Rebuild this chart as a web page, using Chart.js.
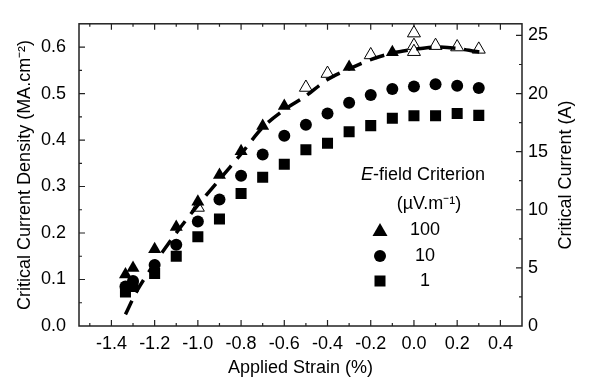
<!DOCTYPE html>
<html>
<head>
<meta charset="utf-8">
<script src="https://cdn.jsdelivr.net/npm/chart.js@4/dist/chart.umd.min.js"></script>
<style>
  html, body { margin: 0; padding: 0; background: #fff; }
  #wrap { width: 600px; height: 387px; }
</style>
</head>
<body>
<div id="wrap"><canvas id="strain-chart"></canvas></div>
<script>
// strain (%) positions
const strain = [-1.335, -1.3, -1.2, -1.1, -1.0, -0.9, -0.8, -0.7, -0.6, -0.5, -0.4, -0.3, -0.2, -0.1, 0.0, 0.1, 0.2, 0.3];

// critical current density, MA.cm-2
const jc10 = [0.085, 0.097, 0.131, 0.175, 0.225, 0.272, 0.323, 0.369, 0.409, 0.433, 0.457, 0.48, 0.497, 0.51, 0.515, 0.52, 0.517, 0.512];
const jc1 = [0.073, 0.085, 0.113, 0.15, 0.192, 0.23, 0.285, 0.32, 0.348, 0.379, 0.393, 0.418, 0.431, 0.447, 0.452, 0.452, 0.457, 0.453];

// 100 uV/m filled points (loading)
const strain100 = [-1.335, -1.3, -1.2, -1.1, -1.0, -0.9, -0.8, -0.7, -0.6, -0.3, -0.1];
const jc100 = [0.111, 0.125, 0.165, 0.213, 0.267, 0.325, 0.376, 0.43, 0.473, 0.557, 0.589];

// 100 uV/m open points
const strainOpen = [-1.0, -0.5, -0.4, -0.2, 0.0, 0.0, 0.0, 0.1, 0.2, 0.3];
const jcOpen = [0.255, 0.513, 0.543, 0.583, 0.63, 0.603, 0.59, 0.603, 0.6, 0.595];

// dashed trend line
const strainFit = [-1.335, -1.28, -1.2, -1.1, -1.0, -0.9, -0.8, -0.7, -0.6, -0.5, -0.4, -0.3, -0.2, -0.1, 0.0, 0.1, 0.2, 0.33];
const jcFit = [0.025, 0.077, 0.135, 0.2, 0.26, 0.315, 0.37, 0.427, 0.465, 0.495, 0.53, 0.553, 0.573, 0.587, 0.595, 0.6, 0.597, 0.587];

const xTicks = [-1.4, -1.2, -1.0, -0.8, -0.6, -0.4, -0.2, 0.0, 0.2, 0.4];
const yTicks = [0.0, 0.1, 0.2, 0.3, 0.4, 0.5, 0.6];
const y2Ticks = [0, 5, 10, 15, 20, 25];

const legendTitle = "-field Criterion";
const legendUnit = "(\u00b5V.m\u207b\u00b9)";
const legendLabels = ["100", "10", "1"];

const FONT = "'Liberation Sans', Arial, Helvetica, sans-serif";

function pts(xs, ys) {
  return xs.map((x, i) => ({ x: x, y: ys[i] }));
}

const framePlugin = {
  id: "frame",
  beforeDatasetsDraw(chart) {
    const ctx = chart.ctx;
    const a = chart.chartArea;
    const x = chart.scales.x, y = chart.scales.y, y2 = chart.scales.y2;
    ctx.save();
    ctx.strokeStyle = "#222";
    ctx.lineWidth = 1.5;
    ctx.strokeRect(a.left, a.top, a.right - a.left, a.bottom - a.top);
    ctx.lineWidth = 1.2;
    ctx.beginPath();
    for (let v = -1.5; v <= 0.5001; v += 0.1) {
      const px = x.getPixelForValue(v);
      if (px < a.left + 1 || px > a.right - 1) continue;
      const major = Math.abs(Math.round(v * 10)) % 2 === 0;
      const len = major ? 6 : 3;
      ctx.moveTo(px, a.bottom); ctx.lineTo(px, a.bottom - len);
      ctx.moveTo(px, a.top); ctx.lineTo(px, a.top + len);
    }
    for (let v = 0.05; v <= 0.65; v += 0.05) {
      const py = y.getPixelForValue(v);
      if (py < a.top + 1) continue;
      const major = Math.round(v * 100) % 10 === 0;
      ctx.moveTo(a.left, py); ctx.lineTo(a.left + (major ? 6 : 3), py);
    }
    for (let v = 2.5; v <= 26; v += 2.5) {
      const py = y2.getPixelForValue(v);
      const major = Math.round(v * 10) % 50 === 0;
      ctx.moveTo(a.right, py); ctx.lineTo(a.right - (major ? 6 : 3), py);
    }
    ctx.stroke();
    ctx.restore();
  },
  afterDraw(chart) {
    const ctx = chart.ctx;
    const a = chart.chartArea;
    ctx.save();
    ctx.fillStyle = "#000";
    ctx.font = "18px " + FONT;
    ctx.textBaseline = "middle";
    ctx.textAlign = "center";
    // right axis title, reads bottom to top
    ctx.save();
    ctx.translate(566, (a.top + a.bottom) / 2);
    ctx.rotate(-Math.PI / 2);
    ctx.fillText("Critical Current (A)", 0, 0);
    ctx.restore();

    // legend block
    const cx = 423;
    ctx.font = "italic 18px " + FONT;
    const wE = ctx.measureText("E").width;
    ctx.font = "18px " + FONT;
    const wRest = ctx.measureText(legendTitle).width;
    const startX = cx - (wE + wRest) / 2;
    ctx.textAlign = "left";
    ctx.font = "italic 18px " + FONT;
    ctx.fillText("E", startX, 175);
    ctx.font = "18px " + FONT;
    ctx.fillText(legendTitle, startX + wE, 175);
    ctx.textAlign = "center";
    ctx.fillText(legendUnit, 429, 204);
    const rows = [230, 256, 281];
    legendLabels.forEach((t, i) => ctx.fillText(t, 425, rows[i]));
    // markers
    const mx = 380;
    ctx.beginPath();
    ctx.moveTo(mx, rows[0] - 7);
    ctx.lineTo(mx + 7.5, rows[0] + 6);
    ctx.lineTo(mx - 7.5, rows[0] + 6);
    ctx.closePath();
    ctx.fill();
    ctx.beginPath();
    ctx.arc(mx, rows[1], 6, 0, Math.PI * 2);
    ctx.fill();
    ctx.fillRect(mx - 5.5, rows[2] - 5.5, 11, 11);
    ctx.restore();
  }
};

new Chart(document.getElementById("strain-chart"), {
  type: "scatter",
  data: {
    datasets: [
      {
        label: "trend",
        type: "line",
        data: pts(strainFit, jcFit),
        borderColor: "#000",
        borderWidth: 3.5,
        borderDash: [15, 9],
        pointRadius: 0,
        fill: false,
        tension: 0.3,
      },
      {
        label: "1",
        data: pts(strain, jc1),
        pointStyle: "rect",
        pointRadius: 7.8,
        backgroundColor: "#000",
        borderColor: "#000",
        borderWidth: 0,
      },
      {
        label: "10",
        data: pts(strain, jc10),
        pointStyle: "circle",
        pointRadius: 6,
        backgroundColor: "#000",
        borderColor: "#000",
        borderWidth: 0,
      },
      {
        label: "100",
        data: pts(strain100, jc100),
        pointStyle: "triangle",
        pointRadius: 7.5,
        backgroundColor: "#000",
        borderColor: "#000",
        borderWidth: 0,
      },
      {
        label: "100 open",
        data: pts(strainOpen, jcOpen),
        pointStyle: "triangle",
        pointRadius: 7.5,
        backgroundColor: "#fff",
        borderColor: "#000",
        borderWidth: 1,
      },
    ],
  },
  options: {
    responsive: true,
    maintainAspectRatio: false,
    animation: false,
    layout: { padding: { top: 1, left: 0, right: 0, bottom: 0 } },
    plugins: {
      legend: { display: false },
      tooltip: { enabled: false },
    },
    scales: {
      x: {
        type: "linear",
        min: -1.55,
        max: 0.5,
        grid: { display: false, drawTicks: false },
        border: { display: false },
        afterBuildTicks: (s) => { s.ticks = xTicks.map((v) => ({ value: v })); },
        afterFit: (s) => { s.height = 61; },
        ticks: {
          padding: 7,
          color: "#000",
          font: { family: FONT, size: 18 },
          callback: (v) => Number(v).toFixed(1),
        },
        title: {
          display: true,
          text: "Applied Strain (%)",
          color: "#000",
          font: { family: FONT, size: 18 },
          padding: { top: 0, bottom: 8 },
        },
      },
      y: {
        type: "linear",
        position: "left",
        min: 0,
        max: 0.65,
        grid: { display: false, drawTicks: false },
        border: { display: false },
        afterBuildTicks: (s) => { s.ticks = yTicks.map((v) => ({ value: v })); },
        afterFit: (s) => { s.width = 79; },
        ticks: {
          padding: 13,
          color: "#000",
          font: { family: FONT, size: 18 },
          callback: (v) => Number(v).toFixed(1),
        },
        title: {
          display: true,
          text: "Critical Current Density (MA.cm\u207b\u00b2)",
          color: "#000",
          font: { family: FONT, size: 18 },
          padding: { top: 14, bottom: 0 },
        },
      },
      y2: {
        type: "linear",
        position: "right",
        min: 0,
        max: 26,
        grid: { display: false, drawTicks: false },
        border: { display: false },
        afterBuildTicks: (s) => { s.ticks = y2Ticks.map((v) => ({ value: v })); },
        afterFit: (s) => { s.width = 78; },
        ticks: {
          padding: 6,
          color: "#000",
          font: { family: FONT, size: 18 },
        },
      },
    },
  },
  plugins: [framePlugin],
});
</script>
</body>
</html>
